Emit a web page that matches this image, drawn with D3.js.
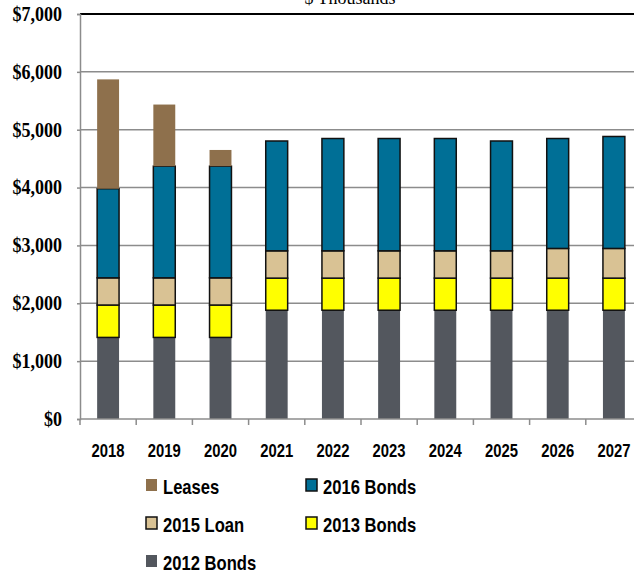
<!DOCTYPE html>
<html>
<head>
<meta charset="utf-8">
<script src="https://cdn.jsdelivr.net/npm/d3@7/dist/d3.min.js"></script>
<style>
  html, body { margin: 0; padding: 0; background: #fff; }
  svg { display: block; }
</style>
</head>
<body>
<svg id="chart" width="634" height="575"></svg>
<script>
// Debt service by year, $ thousands
const years = ["2018", "2019", "2020", "2021", "2022", "2023", "2024", "2025", "2026", "2027"];
const bonds2012 = [1410, 1410, 1410, 1880, 1880, 1880, 1880, 1880, 1880, 1880];
const bonds2013 = [560, 560, 560, 555, 555, 555, 555, 555, 555, 555];
const loan2015  = [470, 470, 470, 472, 472, 472, 472, 472, 513, 513];
const bonds2016 = [1540, 1930, 1930, 1898, 1941, 1941, 1941, 1898, 1900, 1935];
const leases    = [1890, 1065, 280, 0, 0, 0, 0, 0, 0, 0];
const yTicks = [0, 1000, 2000, 3000, 4000, 5000, 6000, 7000];

const seriesDefs = [
  { key: "b2012", name: "2012 Bonds", values: bonds2012, color: "#53575e", outlined: false },
  { key: "b2013", name: "2013 Bonds", values: bonds2013, color: "#ffff00", outlined: true },
  { key: "l2015", name: "2015 Loan",  values: loan2015,  color: "#d9c294", outlined: true },
  { key: "b2016", name: "2016 Bonds", values: bonds2016, color: "#006f96", outlined: true },
  { key: "lease", name: "Leases",     values: leases,    color: "#8e704c", outlined: false }
];

const rows = years.map((yr, i) => {
  const r = { year: yr };
  seriesDefs.forEach(s => { r[s.key] = s.values[i]; });
  return r;
});

const svg = d3.select("#chart");
const plotLeft = 80, plotRight = 642, plotTop = 14, plotBottom = 419;
const sansFont = "'Liberation Sans', Arial, sans-serif";
const serifFont = "'Liberation Serif', 'Times New Roman', serif";

// squeeze a text's glyphs horizontally to mimic a condensed face
function condense(sel, factor) {
  sel.each(function () {
    const w = this.getComputedTextLength();
    d3.select(this).attr("textLength", w * factor).attr("lengthAdjust", "spacingAndGlyphs");
  });
}

const x = d3.scaleBand().domain(years).range([plotLeft, plotRight])
  .paddingInner(0.61).paddingOuter(0.305);
const y = d3.scaleLinear().domain([0, 7000]).range([plotBottom, plotTop]);

// gridlines
svg.append("g").selectAll("line").data(yTicks.filter(t => t > 0)).join("line")
  .attr("x1", plotLeft).attr("x2", 634)
  .attr("y1", d => y(d)).attr("y2", d => y(d))
  .attr("stroke", d => d === 7000 ? "#000" : "#8c8c8c")
  .attr("stroke-width", d => d === 7000 ? 2 : 1.5);

// y axis
const yAxis = svg.append("g").attr("transform", `translate(${plotLeft},0)`)
  .call(d3.axisLeft(y).tickValues(yTicks).tickSize(3).tickPadding(15)
    .tickFormat(d => "$" + d3.format(",")(d)));
yAxis.select(".domain").attr("stroke", "#8c8c8c").attr("stroke-width", 1.5);
yAxis.selectAll(".tick line").attr("stroke", "#8c8c8c").attr("stroke-width", 1.5);
yAxis.selectAll(".tick text")
  .attr("font-family", serifFont)
  .attr("font-weight", "bold").attr("font-size", 20).attr("fill", "#000")
  .call(condense, 0.9);

// stacked bars
const stack = d3.stack().keys(seriesDefs.map(s => s.key));
const layers = stack(rows);
layers.forEach((layer, li) => {
  const def = seriesDefs[li];
  svg.append("g").selectAll("rect").data(layer.filter(d => d[1] > d[0])).join("rect")
    .attr("x", d => x(d.data.year))
    .attr("width", x.bandwidth())
    .attr("y", d => y(d[1]))
    .attr("height", d => y(d[0]) - y(d[1]))
    .attr("fill", def.color)
    .attr("stroke", def.outlined ? "#111" : "none")
    .attr("stroke-width", 1.5);
});

// x axis
const gap = x.step() - x.bandwidth();
const xg = svg.append("g");
xg.append("line").attr("x1", plotLeft).attr("x2", 634).attr("y1", plotBottom).attr("y2", plotBottom)
  .attr("stroke", "#8c8c8c").attr("stroke-width", 1.5);
xg.selectAll("line.tk").data(years).join("line").attr("class", "tk")
  .attr("x1", d => x(d) - gap / 2).attr("x2", d => x(d) - gap / 2)
  .attr("y1", plotBottom).attr("y2", plotBottom + 6)
  .attr("stroke", "#8c8c8c").attr("stroke-width", 1.5);
xg.selectAll("text").data(years).join("text")
  .attr("x", d => x(d) + x.bandwidth() / 2).attr("y", 457)
  .attr("text-anchor", "middle")
  .attr("font-family", sansFont)
  .attr("font-weight", "bold").attr("font-size", 19).attr("fill", "#000")
  .text(d => d)
  .call(condense, 0.78);

// title
svg.append("text").attr("x", 350).attr("y", 4).attr("text-anchor", "middle")
  .attr("font-family", serifFont)
  .attr("font-size", 18).attr("fill", "#000").text("$ Thousands");

// legend
const legendItems = [
  { key: "lease", col: 0, row: 0 },
  { key: "b2016", col: 1, row: 0 },
  { key: "l2015", col: 0, row: 1 },
  { key: "b2013", col: 1, row: 1 },
  { key: "b2012", col: 0, row: 2 }
];
const lg = svg.append("g");
legendItems.forEach(it => {
  const def = seriesDefs.find(s => s.key === it.key);
  const lx = it.col === 0 ? 146 : 306;
  const ly = 479 + it.row * 38;
  lg.append("rect").attr("x", lx).attr("y", ly).attr("width", 11).attr("height", 12)
    .attr("fill", def.color)
    .attr("stroke", def.outlined ? "#111" : "none").attr("stroke-width", 1.5);
  lg.append("text").attr("x", lx + 17).attr("y", ly + 15)
    .attr("font-family", sansFont)
    .attr("font-weight", "bold").attr("font-size", 21).attr("fill", "#000")
    .text(def.name)
    .call(condense, 0.79);
});
</script>
</body>
</html>
